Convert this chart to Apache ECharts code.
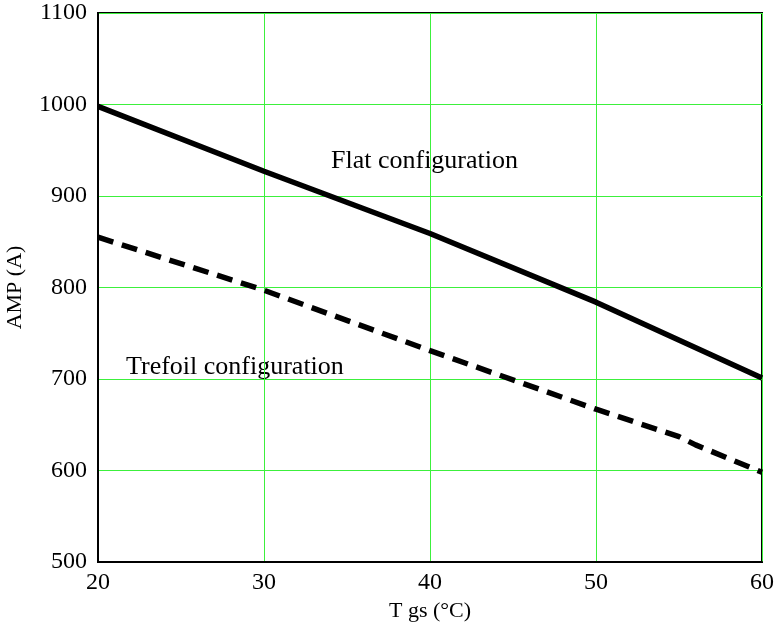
<!DOCTYPE html>
<html>
<head>
<meta charset="utf-8">
<script src="https://cdn.jsdelivr.net/npm/echarts@6/dist/echarts.min.js"></script>
<style>
  html, body { margin: 0; padding: 0; background: #fff; }
  #chart { width: 780px; height: 633px; }
</style>
</head>
<body>
<div id="chart"></div>
<script>
// data
var flatX = [20, 30, 40, 50, 60];
var flatY = [998, 927, 859, 784, 701];
var trefoilX = [20, 30, 40, 50, 55, 56, 60];
var trefoilY = [855, 797, 731, 667, 637, 628, 598];
var yTicks = [500, 600, 700, 800, 900, 1000, 1100];
var xTicks = [20, 30, 40, 50, 60];

function pairs(xs, ys) {
    return xs.map(function (x, i) { return [x, ys[i]]; });
}

var font = '"Liberation Serif", "DejaVu Serif", serif';
var green = '#3cf03c';
var chart = echarts.init(document.getElementById('chart'));

var option = {
    animation: false,
    textStyle: { fontFamily: font },
    grid: {
        left: 98, right: 18, top: 13, bottom: 71,
        outerBoundsMode: 'none',
        containLabel: false,
        show: true, borderColor: '#000', borderWidth: 2, backgroundColor: 'transparent'
    },
    xAxis: {
        type: 'value',
        min: xTicks[0],
        max: xTicks[xTicks.length - 1],
        interval: 10,
        name: 'T gs (°C)',
        nameLocation: 'middle',
        nameGap: 38,
        nameTextStyle: { color: '#000', fontSize: 22, fontFamily: font },
        axisLine: { show: true, lineStyle: { color: '#000', width: 2 } },
        axisTick: { show: false },
        axisLabel: { color: '#000', fontSize: 24, fontFamily: font, margin: 9,
            formatter: function (v) { return String(v); } },
        splitLine: { show: true, lineStyle: { color: green, width: 1 } }
    },
    yAxis: {
        type: 'value',
        min: yTicks[0],
        max: yTicks[yTicks.length - 1],
        interval: 100,
        name: 'AMP (A)',
        nameLocation: 'middle',
        nameGap: 72,
        nameRotate: 90,
        nameTextStyle: { color: '#000', fontSize: 22, fontFamily: font },
        axisLine: { show: true, lineStyle: { color: '#000', width: 2 } },
        axisTick: { show: false },
        axisLabel: { color: '#000', fontSize: 24, fontFamily: font, margin: 11,
            formatter: function (v) { return String(v); } },
        splitLine: { show: true, lineStyle: { color: green, width: 1 } }
    },
    series: [{
        name: 'Flat configuration',
        type: 'line',
        data: pairs(flatX, flatY),
        showSymbol: false,
        z: 4,
        lineStyle: { color: '#000', width: 5.5 }
    }, {
        name: 'Trefoil configuration',
        type: 'line',
        data: pairs(trefoilX, trefoilY),
        showSymbol: false,
        z: 4,
        lineStyle: { color: '#000', width: 5.5, type: [16, 9] }
    }],
    graphic: [{
        type: 'text',
        left: 331, top: 148,
        style: { text: 'Flat configuration', fill: '#000', font: '26px ' + font }
    }, {
        type: 'text',
        left: 126, top: 354,
        style: { text: 'Trefoil configuration', fill: '#000', font: '26px ' + font }
    }]
};
chart.setOption(option);
</script>
</body>
</html>
